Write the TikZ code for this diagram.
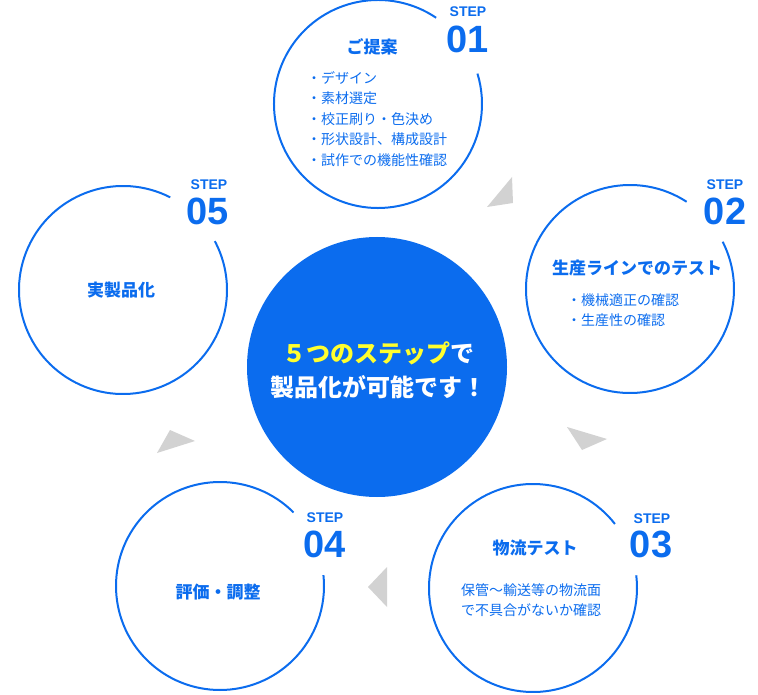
\documentclass[tikz,border=0pt]{standalone}
\usepackage{fontspec}
\setmainfont{Noto Sans CJK JP}
\newfontfamily\stepfont{Liberation Sans}
\usepackage{tikz}

\definecolor{stepblue}{HTML}{0B6CEE}
\definecolor{pointergray}{HTML}{D2D2D2}
\definecolor{catchyellow}{HTML}{FFFF2E}

\begin{document}
\begin{tikzpicture}[x=1pt, y=-1pt, % pixel grid, y runs downwards
	ring/.style={circle, minimum size=208pt, inner sep=0pt, outer sep=0pt},
	ringline/.style={draw=stepblue, line width=2pt}, % open circle line
	core/.style={circle, fill=stepblue, minimum size=260pt, inner sep=0pt},
	steplabel/.style={font=\stepfont\bfseries\fontsize{14}{14}\selectfont, text=stepblue, inner sep=0pt},
	stepnum/.style={font=\stepfont\bfseries\fontsize{38}{38}\selectfont, text=stepblue, inner sep=0pt},
	steptitle/.style={font=\bfseries\fontsize{17}{17}\selectfont, text=stepblue, inner sep=0pt},
	stepbody/.style={font=\fontsize{14}{20.5}\selectfont, text=stepblue, inner sep=0pt, align=left},
	pointer/.style={fill=pointergray}]
	\useasboundingbox (0,0) rectangle (758,695);

	% the five step rings
	\node[ring] (s1) at (378,104) {};
	\node[ring] (s2) at (630,289) {};
	\node[ring] (s3) at (533,588) {};
	\node[ring] (s4) at (220,586) {};
	\node[ring] (s5) at (123,290) {};

	\draw[ringline] (s1.56) arc[start angle=56, end angle=377, radius=104pt];
	\draw[ringline] (s2.57) arc[start angle=57, end angle=387, radius=104pt];
	\draw[ringline] (s3.38) arc[start angle=38, end angle=367, radius=104pt];
	\draw[ringline] (s4.45) arc[start angle=45, end angle=366, radius=104pt];
	\draw[ringline] (s5.63) arc[start angle=63, end angle=388, radius=104pt];

	% centre disc
	\node[core] (hub) at (377,367) {};
	\node[font=\bfseries\fontsize{24}{34}\selectfont, text=white, align=center, inner sep=0pt] (claim) at (378,370)
		{\textcolor{catchyellow}{５つのステップ}で\\製品化が可能です！};

	% step numbers
	\node[steplabel] (st1) at (468,12)  {STEP};
	\node[stepnum]   (n1)  at (468,39)  {01};
	\node[steplabel] (st2) at (725,185) {STEP};
	\node[stepnum]   (n2)  at (725,211) {02};
	\node[steplabel] (st3) at (652,519) {STEP};
	\node[stepnum]   (n3)  at (651,544) {03};
	\node[steplabel] (st4) at (325,518) {STEP};
	\node[stepnum]   (n4)  at (325,544) {04};
	\node[steplabel] (st5) at (209,185) {STEP};
	\node[stepnum]   (n5)  at (208,211) {05};

	% texts inside the rings
	\node[steptitle] (t1) at (372,47) {ご提案};
	\node[stepbody, anchor=west] (b1) at (307,119)
		{・デザイン\\・素材選定\\・校正刷り・色決め\\・形状設計、構成設計\\・試作での機能性確認};
	\node[steptitle] (t2) at (637,268) {生産ラインでのテスト};
	\node[stepbody, anchor=west] (b2) at (567,310) {・機械適正の確認\\・生産性の確認};
	\node[steptitle] (t3) at (535,548) {物流テスト};
	\node[stepbody, align=center] (b3) at (531,600) {保管〜輸送等の物流面\\で不具合がないか確認};
	\node[steptitle] (t4) at (218,592) {評価・調整};
	\node[steptitle] (t5) at (121,290) {実製品化};

	% grey turn markers
	\fill[pointer] (512,177) -- (513,203) -- (487,207) -- cycle;
	\fill[pointer] (567,427) -- (607,439) -- (582,450) -- cycle;
	\fill[pointer] (387,567) -- (387,607) -- (368,587) -- cycle;
	\fill[pointer] (170,430) -- (195,441) -- (157,453) -- cycle;

\end{tikzpicture}
\end{document}
